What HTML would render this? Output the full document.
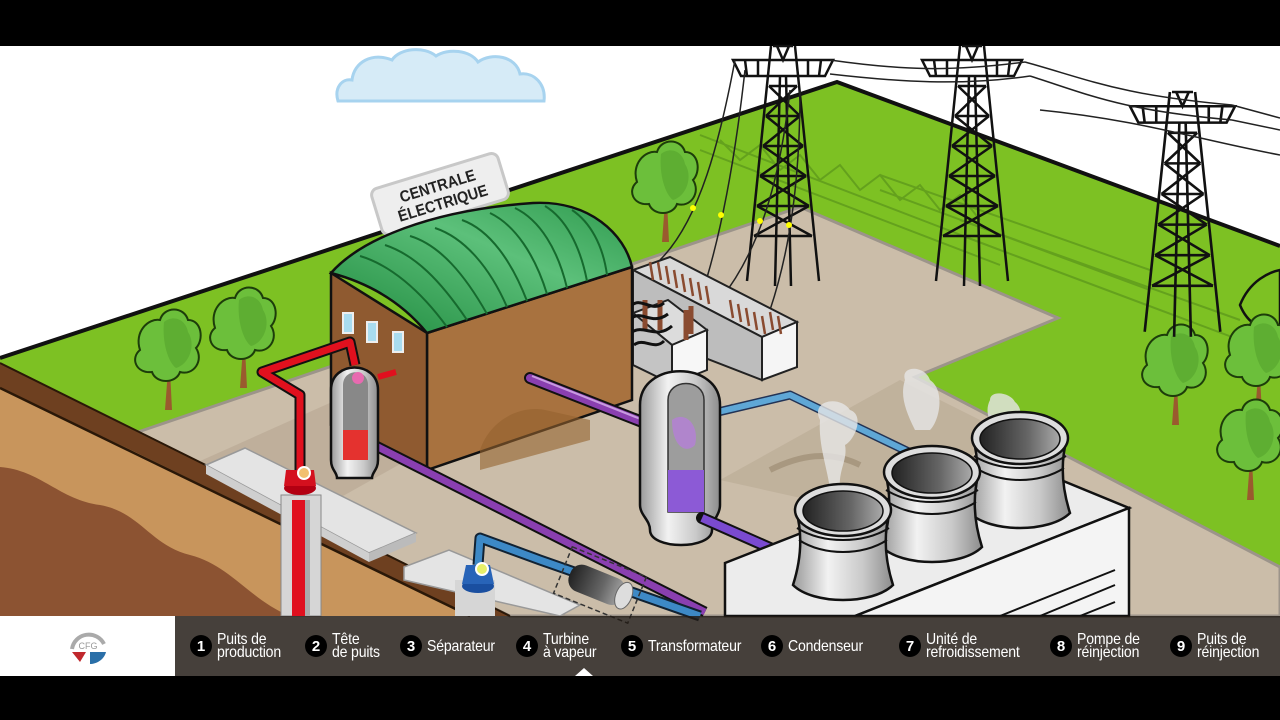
<!DOCTYPE html>
<html><head><meta charset="utf-8"><style>
html,body{margin:0;padding:0;background:#000;}
#w{position:relative;width:1280px;height:720px;overflow:hidden;background:#000;}
svg{position:absolute;left:0;top:0;}
.bar{position:absolute;left:0;top:616px;width:1280px;height:60px;background:rgba(34,27,22,0.84);}
.logo{position:absolute;left:0;top:616px;width:175px;height:60px;background:#fff;}
.it{position:absolute;top:616px;height:60px;display:flex;align-items:center;color:#fff;font-family:"Liberation Sans Narrow","Liberation Sans",sans-serif;font-size:16px;line-height:13px;}
.n{width:22px;height:22px;border-radius:50%;background:#000;color:#fff;font-weight:bold;font-size:15px;display:flex;align-items:center;justify-content:center;margin-right:5px;flex:none;}
.t{display:inline-block;transform:scaleX(.88);transform-origin:0 50%;white-space:nowrap;letter-spacing:-0.2px;}
</style></head><body><div id="w">
<svg width="1280" height="720" viewBox="0 0 1280 720">
<defs>
<linearGradient id="metal" x1="0" x2="1"><stop offset="0" stop-color="#9a9a9a"/><stop offset=".35" stop-color="#f2f2f2"/><stop offset=".7" stop-color="#c9c9c9"/><stop offset="1" stop-color="#8c8c8c"/></linearGradient>
<linearGradient id="dark" x1="0" x2="1"><stop offset="0" stop-color="#222"/><stop offset=".6" stop-color="#666"/><stop offset="1" stop-color="#aaa"/></linearGradient>
<linearGradient id="roof" x1="0" y1="1" x2="1" y2="0"><stop offset="0" stop-color="#1f8a3e"/><stop offset=".6" stop-color="#5cc07a"/><stop offset="1" stop-color="#2f9a4e"/></linearGradient>
<g id="tree"><path d="M0,30 L-3,70 L4,70 L2,30Z" fill="#9a5a2e"/><path d="M-28,10 C-34,-8 -20,-22 -8,-20 C-4,-34 16,-34 20,-20 C34,-20 36,0 28,8 C36,20 26,36 12,32 C8,44 -12,44 -16,32 C-32,34 -38,18 -28,10Z" fill="#6cbf3b" stroke="#1d3d0a" stroke-width="2"/><path d="M-4,-18 C6,-26 18,-20 20,-8 C28,4 22,24 8,28 C0,22 -6,2 -4,-18Z" fill="#4f9e2a" opacity=".5"/></g>
<g id="tower" fill="none" stroke="#111" stroke-width="2.5">
<path d="M0,14 L100,14 L92,30 L8,30Z M12,14 L14,30 M25,14 L25,30 M75,14 L75,30 M88,14 L86,30"/>
<path d="M38,0 L14,235 M62,0 L86,235 M47,30 L42,240 M53,30 L58,240"/>
<path d="M36,40 L64,40 M33,70 L67,70 M30,100 L70,100 M27,130 L73,130 M24,160 L76,160 M21,190 L79,190"/>
<path d="M36,40 L67,70 M64,40 L33,70 M33,70 L70,100 M67,70 L30,100 M30,100 L73,130 M70,100 L27,130 M27,130 L76,160 M73,130 L24,160 M24,160 L79,190 M76,160 L21,190"/>
<path d="M40,0 L60,0 M44,0 L50,14 L56,0"/>
</g>
<g id="ct"><path d="M-47,0 C-40,25 -42,50 -50,75 C-30,95 30,95 50,75 C42,50 40,25 47,0Z" fill="url(#metal)" stroke="#111" stroke-width="2.5"/>
<path d="M-46,18 C-20,34 20,34 46,18 M-44,30 C-20,46 20,46 44,30" fill="none" stroke="#111" stroke-width="2"/>
<ellipse cx="0" cy="0" rx="48" ry="26" fill="#ddd" stroke="#111" stroke-width="2.5"/>
<ellipse cx="0" cy="1" rx="40" ry="20" fill="url(#dark)" stroke="#111" stroke-width="1.5"/></g>
</defs>
<rect x="0" y="0" width="1280" height="720" fill="#000"/>
<rect x="0" y="46" width="1280" height="630" fill="#fff"/>
<path d="M338,101 C334,88 342,78 352,80 C354,62 372,52 392,60 C400,48 424,46 436,56 C448,48 470,50 478,62 C492,52 516,56 520,74 C534,72 546,84 544,101Z" fill="#d6ebf7" stroke="#a7d3ef" stroke-width="3"/>
<polygon points="0,358 837,82 1280,246 1280,616 0,616" fill="#7dc123"/>
<polyline points="0,358 837,82 1280,246" fill="none" stroke="#111" stroke-width="4"/>
<path d="M1240,305 C1250,280 1270,272 1280,270 L1280,330 C1262,330 1248,325 1240,305Z" fill="#7dc123" stroke="#111" stroke-width="2.5"/>
<g stroke="#5e9a1c" stroke-width="2" fill="none" opacity=".8"><path d="M700,135 L1000,250 M700,150 L1000,265 M720,140 L740,160 L760,145 L780,170 L800,155 L820,180 M880,175 L1150,270 M880,190 L1150,290"/><path d="M820,180 L840,165 L860,190 L880,175 L900,200 L920,185 L940,210 L960,195 L980,220"/><path d="M960,220 L1240,320 M960,235 L1240,340"/></g>
<polygon points="135,433 800,207 1058,318 915,377 1280,567 1280,616 510,616" fill="#cbbda9" stroke="#9c948a" stroke-width="3"/>
<path d="M180,470 L560,300 L640,330 L300,520Z" fill="#b9aa95" opacity=".7"/>
<path d="M720,480 L900,380 L1000,430 L900,520Z" fill="#b9aa95" opacity=".6"/>
<path d="M770,470 C800,455 830,450 860,465" fill="none" stroke="#a89880" stroke-width="6"/>
<polygon points="0,363 135,431 510,616 0,616" fill="#c8955c"/>
<path d="M0,467 C40,470 60,500 100,505 C140,512 150,545 190,555 C230,565 250,600 290,616 L0,616Z" fill="#8c5332"/>
<polygon points="0,363 135,431 510,616 470,616 135,452 0,388" fill="#6e4020"/>
<line x1="0" y1="388" x2="470" y2="616" stroke="#2a1808" stroke-width="2.5"/>
<line x1="0" y1="363" x2="510" y2="616" stroke="#2a1808" stroke-width="2"/>
<use href="#tree" x="168" y="340"/>
<use href="#tree" x="243" y="318"/>
<use href="#tree" x="665" y="172"/>
<use href="#tree" x="1175" y="355"/>
<use href="#tree" x="1258" y="345"/>
<use href="#tree" x="1250" y="430"/>
<use href="#tower" x="733" y="46"/>
<use href="#tower" x="922" y="46"/>
<g transform="translate(1130,92) scale(1.05,1.02)"><use href="#tower"/></g>
<g fill="none" stroke="#222" stroke-width="1.5">
<path d="M830,60 C900,70 950,72 1025,62"/><path d="M830,74 C900,82 960,86 1030,76"/>
<path d="M1025,62 C1090,80 1120,95 1232,105"/><path d="M1030,76 C1090,95 1120,110 1232,120"/>
<path d="M1232,105 L1280,118 M1232,120 L1280,130 M1040,110 C1140,120 1200,140 1280,155"/>
<path d="M735,60 C720,140 700,220 660,260"/><path d="M745,70 C735,160 720,240 700,300"/>
<path d="M790,90 C780,180 760,250 720,300"/><path d="M800,90 C800,180 790,250 770,310"/>
</g>
<g fill="#ff0"><circle cx="693" cy="208" r="3"/><circle cx="721" cy="215" r="3"/><circle cx="760" cy="221" r="3"/><circle cx="789" cy="225" r="3"/></g>
<polygon points="633,270 670,257 797,322 762,337" fill="#d9d9d9" stroke="#222" stroke-width="2"/>
<polygon points="762,337 797,322 797,367 762,380" fill="#f5f5f5" stroke="#222" stroke-width="2"/>
<polygon points="633,270 762,337 762,380 633,330" fill="#bdbdbd" stroke="#222" stroke-width="2"/>
<polygon points="633,313 668,300 707,330 672,345" fill="#dcdcdc" stroke="#222" stroke-width="2"/>
<polygon points="672,345 707,330 707,370 672,384" fill="#f7f7f7" stroke="#222" stroke-width="2"/>
<polygon points="633,313 672,345 672,384 633,365" fill="#c4c4c4" stroke="#222" stroke-width="2"/>
<g stroke="#8a4b30" stroke-width="2.5"><path d="M650,262 l3,18 M658,262 l3,18 M666,266 l3,18 M674,270 l3,18 M682,274 l3,18 M690,278 l3,18 M698,282 l3,18 M706,286 l3,18 M730,300 l3,18 M738,304 l3,18 M746,308 l3,18 M754,312 l3,18 M762,316 l3,18 M770,312 l3,18 M778,316 l3,18"/></g>
<g stroke="#8a4b30" stroke-width="5"><path d="M645,300 v30 M660,300 v30 M686,310 v30 M691,306 v28"/></g>
<g stroke="#111" stroke-width="3" fill="none"><path d="M632,305 c10,-8 20,8 32,-2 M632,318 c10,-8 20,8 36,-4 M632,332 c12,-8 24,8 40,-6 M634,345 c10,-8 20,6 30,-4"/></g>
<line x1="447" y1="225" x2="447" y2="240" stroke="#111" stroke-width="4"/>
<g transform="translate(440,194) rotate(-17)"><rect x="-66" y="-24" width="132" height="48" rx="7" fill="#eee" stroke="#c8c8c8" stroke-width="3"/>
<text x="0" y="-3" text-anchor="middle" font-family="Liberation Sans Narrow,Liberation Sans,sans-serif" font-weight="bold" font-size="16" fill="#222" transform="scale(.9,1)">CENTRALE</text>
<text x="0" y="15" text-anchor="middle" font-family="Liberation Sans Narrow,Liberation Sans,sans-serif" font-weight="bold" font-size="16" fill="#222" transform="scale(.9,1)">ÉLECTRIQUE</text></g>
<polygon points="427,333 632,267 632,400 427,470" fill="#a8723f" stroke="#111" stroke-width="2.5"/>
<path d="M480,450 C490,420 520,405 545,410 L590,420 L590,440 L480,470Z" fill="#94622f" opacity=".6"/>
<polygon points="331,273 427,333 427,470 331,425" fill="#8f5a30" stroke="#111" stroke-width="2.5"/>
<path d="M331,273 C360,240 430,210 533,203 C590,200 625,235 632,267 L427,333 C400,300 365,282 331,273Z" fill="url(#roof)" stroke="#111" stroke-width="2.5"/>
<g fill="none" stroke="#166a2e" stroke-width="2"><path d="M447,327 C420,290 390,265 360,256"/><path d="M467,320 C440,280 415,255 385,245"/><path d="M487,314 C465,275 440,245 410,236"/><path d="M507,307 C490,268 465,238 435,228"/><path d="M527,301 C512,262 490,230 462,220"/><path d="M547,294 C535,255 515,225 490,213"/><path d="M567,288 C558,250 540,220 515,208"/><path d="M587,281 C580,245 565,218 545,206"/><path d="M607,275 C603,245 590,222 572,210"/></g>
<g fill="#a9dcef" stroke="#eee" stroke-width="2"><rect x="343" y="313" width="10" height="20"/><rect x="367" y="322" width="10" height="20"/><rect x="393" y="332" width="10" height="20"/></g>
<path d="M530,378 L650,425" stroke="#111" stroke-width="12" stroke-linecap="round"/>
<path d="M530,378 L650,425" stroke="#8a3fb0" stroke-width="8" stroke-linecap="round"/>
<path d="M532,376 L648,422" stroke="#c89be0" stroke-width="2"/>
<path d="M370,443 L705,612" stroke="#111" stroke-width="11"/>
<path d="M370,443 L705,612" stroke="#8a3fb0" stroke-width="7"/>
<path d="M718,412 L790,395 L915,455" fill="none" stroke="#235" stroke-width="9" stroke-linejoin="round"/>
<path d="M718,412 L790,395 L915,455" fill="none" stroke="#5fa7d6" stroke-width="6" stroke-linejoin="round"/>
<g fill="#e6e6e6" opacity=".8"><path d="M820,420 C810,400 840,395 850,410 C865,415 855,440 845,445 C848,460 838,470 840,490 L830,490 C828,470 818,445 820,420Z"/><path d="M905,380 C900,365 925,365 930,380 C945,390 940,420 930,430 L915,430 C905,410 900,395 905,380Z"/><path d="M990,400 C990,390 1010,392 1015,402 C1025,410 1020,425 1010,430 L995,430 C988,420 985,410 990,400Z"/></g>
<path d="M331,390 C331,360 378,360 378,390 L378,460 C378,470 372,472 372,478 L337,478 C337,472 331,470 331,460Z" fill="url(#metal)" stroke="#111" stroke-width="2.5"/>
<path d="M343,385 C343,368 368,368 368,385 L368,460 L343,460Z" fill="#888"/>
<path d="M343,430 L368,430 L368,460 L343,460Z" fill="#e4322f"/>
<circle cx="358" cy="378" r="6" fill="#e86ab0"/>
<path d="M300,470 L300,395 L262,372 L350,342 L355,365" fill="none" stroke="#111" stroke-width="11" stroke-linejoin="round"/>
<path d="M300,470 L300,395 L262,372 L350,342 L355,365" fill="none" stroke="#e0101e" stroke-width="7" stroke-linejoin="round"/>
<path d="M378,377 L396,372" stroke="#e0101e" stroke-width="6"/>
<path d="M640,405 C640,360 720,360 720,405 L720,505 C720,515 712,520 712,530 C712,550 650,550 650,530 C650,520 640,515 640,505Z" fill="url(#metal)" stroke="#111" stroke-width="2.5"/>
<path d="M668,400 C668,378 704,378 704,400 L704,512 L668,512Z" fill="#9d9d9d" stroke="#333" stroke-width="1.5"/>
<path d="M668,470 L704,470 L704,512 L668,512Z" fill="#8c5ad6"/>
<path d="M672,420 C685,410 700,425 695,445 C685,455 672,445 672,420Z" fill="#b57fd8" opacity=".8"/>
<path d="M702,518 L770,548" stroke="#111" stroke-width="12" stroke-linecap="round"/>
<path d="M702,518 L770,548" stroke="#7a4ad0" stroke-width="8"/>
<polygon points="206,465 245,448 416,533 369,553" fill="#e4e4e4" stroke="#999" stroke-width="1.5"/>
<polygon points="206,465 369,553 369,562 206,474" fill="#cfcfcf"/>
<polygon points="369,553 416,533 416,542 369,562" fill="#bbb"/>
<rect x="281" y="495" width="40" height="121" fill="#d6d6d6" stroke="#888"/>
<rect x="292" y="500" width="13" height="116" fill="#e0101e"/>
<rect x="305" y="500" width="5" height="116" fill="#aaa"/>
<ellipse cx="300" cy="488" rx="16" ry="7" fill="#b30012"/>
<path d="M286,470 L314,470 L316,486 L284,486Z" fill="#d4101e"/>
<circle cx="304" cy="473" r="6" fill="#f2c070" stroke="#fff" stroke-width="2"/>
<polygon points="404,567 449,550 580,605 560,616 404,580" fill="#e4e4e4" stroke="#999" stroke-width="1.5"/>
<rect x="455" y="580" width="40" height="36" fill="#d6d6d6"/>
<path d="M478,565 L480,538 L540,560 L700,616" fill="none" stroke="#123" stroke-width="11" stroke-linejoin="round"/>
<path d="M478,565 L480,538 L540,560 L700,616" fill="none" stroke="#3d89c6" stroke-width="7" stroke-linejoin="round"/>
<ellipse cx="478" cy="586" rx="16" ry="7" fill="#1a4fa0"/>
<path d="M466,565 L490,565 L494,584 L462,584Z" fill="#2864b8"/>
<circle cx="482" cy="569" r="6" fill="#e8f06a" stroke="#fff" stroke-width="2"/>
<g transform="rotate(22 600 585)"><rect x="560" y="560" width="80" height="50" fill="none" stroke="#333" stroke-width="1.5" stroke-dasharray="5,3"/><rect x="568" y="572" width="58" height="28" rx="12" fill="url(#dark)"/><ellipse cx="626" cy="586" rx="8" ry="14" fill="#ddd" stroke="#666"/></g>
<polygon points="725,563 1000,455 1129,508 855,616 725,616" fill="#ececec" stroke="#111" stroke-width="2.5"/>
<polygon points="855,616 1129,508 1129,616" fill="#f4f4f4" stroke="#111" stroke-width="2.5"/>
<g stroke="#111" stroke-width="2"><line x1="1000" y1="616" x2="1115" y2="570"/><line x1="1040" y1="616" x2="1115" y2="585"/><line x1="1080" y1="616" x2="1115" y2="602"/></g>
<use href="#ct" x="1020" y="438"/>
<use href="#ct" x="932" y="472"/>
<use href="#ct" x="843" y="510"/>
</svg>
<div class="bar"></div>
<div class="logo"><svg width="175" height="60"><path d="M72,33 A17,17 0 0 1 104,28" fill="none" stroke="#aaa" stroke-width="4"/><text x="88" y="33" text-anchor="middle" font-family="Liberation Sans,sans-serif" font-size="9" fill="#999">CFG</text><path d="M72,36 L86,36 L80,46Z" fill="#c0282d"/><path d="M90,36 L106,36 C104,44 96,48 90,48Z" fill="#2a6fa8"/></svg></div>
<div class="it" style="left:190px"><div class="n">1</div><div class="t">Puits de<br>production</div></div>
<div class="it" style="left:305px"><div class="n">2</div><div class="t">Tête<br>de puits</div></div>
<div class="it" style="left:400px"><div class="n">3</div><div class="t">Séparateur</div></div>
<div class="it" style="left:516px"><div class="n">4</div><div class="t">Turbine<br>à vapeur</div></div>
<div class="it" style="left:621px"><div class="n">5</div><div class="t">Transformateur</div></div>
<div class="it" style="left:761px"><div class="n">6</div><div class="t">Condenseur</div></div>
<div class="it" style="left:899px"><div class="n">7</div><div class="t">Unité de<br>refroidissement</div></div>
<div class="it" style="left:1050px"><div class="n">8</div><div class="t">Pompe de<br>réinjection</div></div>
<div class="it" style="left:1170px"><div class="n">9</div><div class="t">Puits de<br>réinjection</div></div>
<div style="position:absolute;left:575px;top:668px;width:0;height:0;border-left:9px solid transparent;border-right:9px solid transparent;border-bottom:8px solid #fff;"></div>
</div></body></html>
